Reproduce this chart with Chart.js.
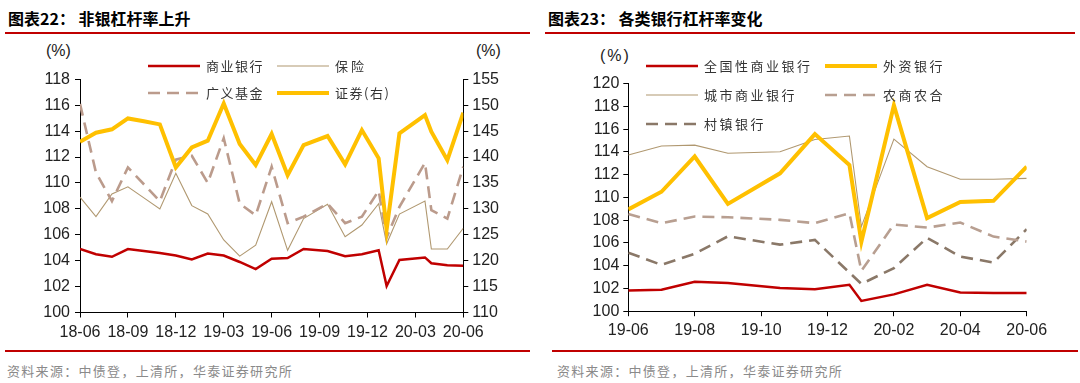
<!DOCTYPE html>
<html><head><meta charset="utf-8">
<script src="https://cdn.jsdelivr.net/npm/chart.js@4.4.0/dist/chart.umd.min.js"></script>
<style>
body{margin:0;width:1080px;height:383px;background:#fff;position:relative;overflow:hidden;font-family:"Noto Sans CJK SC",sans-serif;}
.title{position:absolute;top:8px;font-size:16px;font-weight:700;color:#000;white-space:nowrap;line-height:20px}
.rule{position:absolute;height:2px;background:#C00000}
.src{position:absolute;top:362px;font-size:13px;color:#8a8a8a;letter-spacing:1.3px;white-space:nowrap;line-height:18px}
.unit{position:absolute;font-family:"Liberation Sans",Arial,sans-serif;font-size:16px;color:#222;line-height:18px;white-space:nowrap}
canvas{position:absolute;top:0}
.leg{position:absolute;font-size:13px;color:#333;white-space:nowrap;line-height:16px}
#legsvg{position:absolute;left:0;top:0}
</style></head>
<body>
<div class="title" style="left:8px">图表22： 非银杠杆率上升</div>
<div class="title" style="left:548px">图表23： 各类银行杠杆率变化</div>
<div class="rule" style="left:5px;width:525px;top:32px"></div>
<div class="rule" style="left:545px;width:530px;top:32px"></div>
<div class="rule" style="left:5px;width:525px;top:350px"></div>
<div class="rule" style="left:552px;width:526px;top:350px"></div>
<div class="src" style="left:7px">资料来源：中债登，上清所，华泰证券研究所</div>
<div class="src" style="left:557px">资料来源：中债登，上清所，华泰证券研究所</div>
<div class="unit" style="left:46px;top:42px">(%)</div>
<div class="unit" style="left:476px;top:42px">(%)</div>
<div class="unit" style="left:600px;top:47px;letter-spacing:2px">(%)</div>
<canvas id="c1" width="540" height="350" style="left:0"></canvas>
<canvas id="c2" width="540" height="350" style="left:540px"></canvas>
<svg id="legsvg" width="1080" height="383"></svg>
<div id="legs"></div>
<script>
// ---------- Left chart data (x = months after 2018-06) ----------
const leftMonths = [0,1,2,3,4,5,6,7,8,9,10,11,12,13,14,15.5,16.6,17.65,18.7,19.2,20,21.6,22,23,24];
const leftTickLabels = ['18-06','18-09','18-12','19-03','19-06','19-09','19-12','20-03','20-06'];
const commercialBank = [104.9,104.5,104.3,104.9,104.75,104.6,104.4,104.1,104.55,104.4,103.9,103.35,104.15,104.2,104.9,104.75,104.35,104.5,104.8,102.05,104.05,104.25,103.8,103.65,103.6];
const insurance = [108.9,107.4,109.15,109.7,108.85,108.0,110.75,108.25,107.6,105.6,104.35,105.2,108.55,104.8,107.25,108.35,105.85,106.75,108.4,105.3,107.6,108.6,104.9,104.9,106.5];
const broadFund = [116.1,110.8,108.6,111.2,109.9,108.6,111.8,112.1,110.0,113.45,108.4,107.5,111.25,106.9,107.4,108.4,106.9,107.4,109.4,105.8,108.15,111.55,107.9,107.25,111.25];
const securities = [142.95,144.7,145.35,147.45,146.9,146.3,138.0,141.85,143.15,150.35,142.5,138.45,144.45,136.5,142.3,144.05,138.6,145.2,139.75,126.0,144.55,148.1,144.9,139.4,148.55];

// ---------- Right chart data (x = months after 2019-06) ----------
const rightMonths = [0,1,2,3,4.57,5.62,6.66,7.02,8,9,10,11,12];
const rightTickLabels = ['19-06','19-08','19-10','19-12','20-02','20-04','20-06'];
const nationalBank = [101.83,101.89,102.59,102.47,102.03,101.94,102.32,100.9,101.48,102.32,101.65,101.6,101.6];
const foreignBank = [108.95,110.5,113.6,109.43,112.12,115.57,112.85,106.1,118.1,108.18,109.6,109.7,112.7];
const cityBank = [113.73,114.52,114.6,113.88,114.02,115.1,115.4,107.44,115.13,112.7,111.6,111.6,111.68];
const ruralBank = [108.55,107.74,108.32,108.26,108.03,107.74,108.61,103.55,107.62,107.35,107.79,106.56,106.12];
const villageBank = [105.15,104.07,105.05,106.58,105.85,106.27,103.4,102.4,103.79,106.45,104.8,104.28,107.21];

const C_RED='#C00000', C_YEL='#FFC000', C_THIN='#B09870', C_FUND='#BB9B8C', C_RURAL='#B89F91', C_VILL='#8A7868';

function pts(xs, ys){ return xs.map((x,i)=>({x:x,y:ys[i]})); }
const tickFont = {family:'"Liberation Sans", Arial, sans-serif', size:16};
function axisCommon(extra){
  return Object.assign({
    grid:{display:true,drawOnChartArea:false,drawTicks:true,tickLength:5,color:'#000',tickWidth:1},
    border:{display:true,color:'#000',width:1},
  }, extra);
}
function ds(label, xs, ys, color, width, dash, axis, order){
  return {label:label, data:pts(xs,ys), borderColor:color, backgroundColor:color, borderWidth:width,
    borderDash:dash||[], pointRadius:0, tension:0, fill:false, yAxisID:axis||'y', order:order, borderCapStyle:'butt', borderJoinStyle:'miter'};
}

new Chart(document.getElementById('c1'), {
  type:'line',
  data:{datasets:[
    ds('商业银行', leftMonths, commercialBank, C_RED, 2.5, null, 'y', 3),
    ds('保险', leftMonths, insurance, C_THIN, 1.1, null, 'y', 2),
    ds('广义基金', leftMonths, broadFund, C_FUND, 2.6, [12,7], 'y', 1),
    ds('证券(右)', leftMonths, securities, C_YEL, 4, null, 'y2', 0)
  ]},
  options:{
    responsive:false, animation:false, devicePixelRatio:1,
    layout:{padding:{top:79.3,left:0,right:0,bottom:0}},
    plugins:{legend:{display:false},tooltip:{enabled:false}},
    scales:{
      x: axisCommon({type:'linear',min:0,max:24,
        ticks:{stepSize:3,autoSkip:false,maxRotation:0,font:tickFont,color:'#222',padding:5,
          callback:(v)=>leftTickLabels[Math.round(v/3)]},
        afterFit:(s)=>{s.height=350-312.5;}}),
      y: axisCommon({position:'left',min:100,max:118,
        ticks:{stepSize:2,font:tickFont,color:'#222',padding:5},
        afterFit:(s)=>{s.width=80;}}),
      y2: axisCommon({position:'right',min:110,max:155,
        ticks:{stepSize:5,font:tickFont,color:'#222',padding:4},
        afterFit:(s)=>{s.width=540-463.3;}})
    }
  }
});

new Chart(document.getElementById('c2'), {
  type:'line',
  data:{datasets:[
    ds('全国性商业银行', rightMonths, nationalBank, C_RED, 2.5, null, 'y', 4),
    ds('城市商业银行', rightMonths, cityBank, C_THIN, 1.1, null, 'y', 3),
    ds('村镇银行', rightMonths, villageBank, C_VILL, 2.6, [12,7], 'y', 2),
    ds('农商农合', rightMonths, ruralBank, C_RURAL, 2.6, [12,7], 'y', 1),
    ds('外资银行', rightMonths, foreignBank, C_YEL, 4, null, 'y', 0)
  ]},
  options:{
    responsive:false, animation:false, devicePixelRatio:1,
    layout:{padding:{top:83.7,left:0,right:53.3,bottom:0}},
    plugins:{legend:{display:false},tooltip:{enabled:false}},
    scales:{
      x: axisCommon({type:'linear',min:0,max:12,
        ticks:{stepSize:2,autoSkip:false,maxRotation:0,font:tickFont,color:'#222',padding:5,
          callback:(v)=>rightTickLabels[Math.round(v/2)]},
        afterFit:(s)=>{s.height=350-311.2;}}),
      y: axisCommon({position:'left',min:100,max:120,
        ticks:{stepSize:2,font:tickFont,color:'#222',padding:4},
        afterFit:(s)=>{s.width=88.3;}})
    }
  }
});

// ---------- HTML legends ----------
const legendItems = [
  {name:'商业银行', color:C_RED, w:2.5, dash:null, x:148, y:66, sp:1.5},
  {name:'保险', color:C_THIN, w:1.1, dash:null, x:277, y:66, sp:3},
  {name:'广义基金', color:C_FUND, w:2.6, dash:'12,7', x:148, y:93, sp:1.5},
  {name:'证券(右)', color:C_YEL, w:4, dash:null, x:277, y:93, sp:1.5},
  {name:'全国性商业银行', color:C_RED, w:2.5, dash:null, x:646, y:66, sp:2.5},
  {name:'外资银行', color:C_YEL, w:4, dash:null, x:825, y:66, sp:2.5},
  {name:'城市商业银行', color:C_THIN, w:1.1, dash:null, x:646, y:95, sp:2.5},
  {name:'农商农合', color:C_RURAL, w:2.6, dash:'12,7', x:825, y:95, sp:2.5},
  {name:'村镇银行', color:C_VILL, w:2.6, dash:'12,7', x:646, y:124, sp:2.5}
];
const svg = document.getElementById('legsvg');
const legs = document.getElementById('legs');
legendItems.forEach(it=>{
  const ln = document.createElementNS('http://www.w3.org/2000/svg','line');
  ln.setAttribute('x1',it.x); ln.setAttribute('x2',it.x+52);
  ln.setAttribute('y1',it.y); ln.setAttribute('y2',it.y);
  ln.setAttribute('stroke',it.color); ln.setAttribute('stroke-width',it.w);
  if(it.dash) ln.setAttribute('stroke-dasharray',it.dash);
  svg.appendChild(ln);
  const d = document.createElement('div');
  d.className='leg'; d.textContent=it.name;
  d.style.left=(it.x+58)+'px'; d.style.top=(it.y-8)+'px'; d.style.letterSpacing=it.sp+'px';
  legs.appendChild(d);
});
</script>
</body></html>
